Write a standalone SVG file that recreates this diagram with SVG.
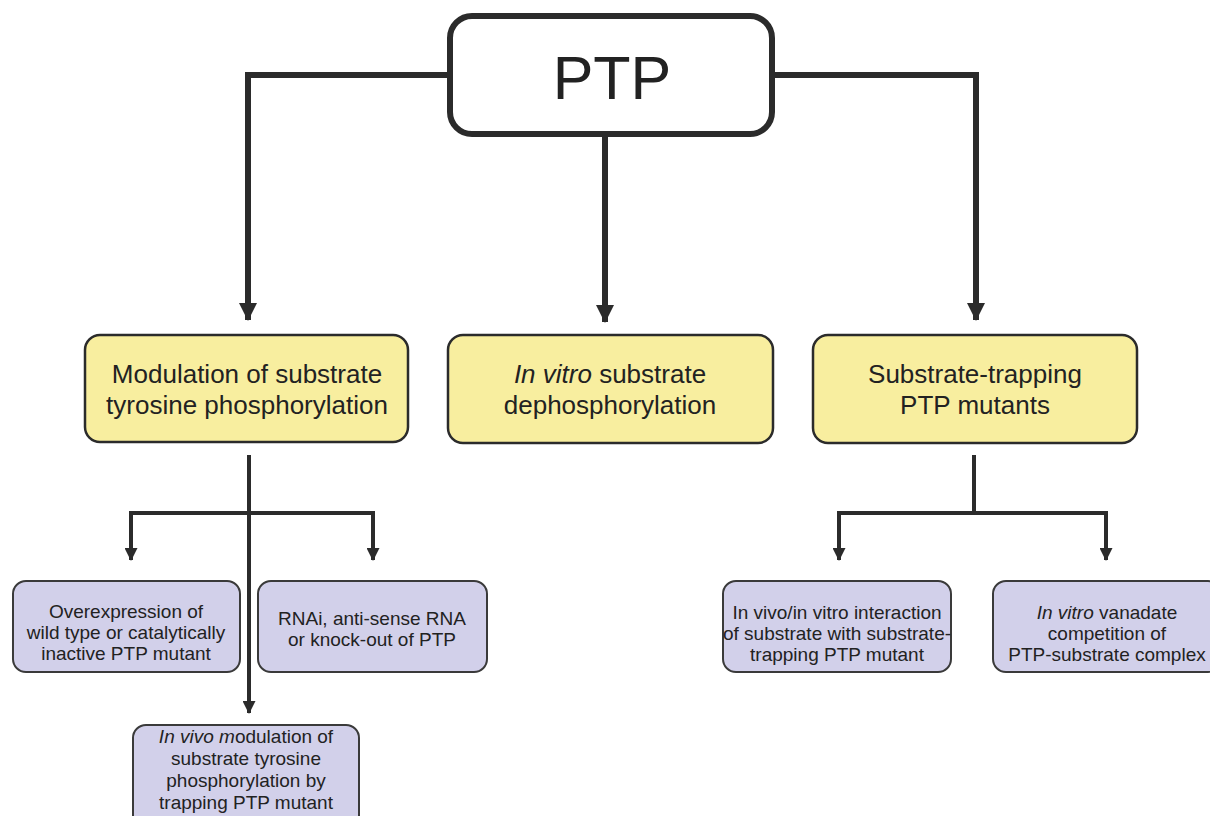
<svg xmlns="http://www.w3.org/2000/svg" width="1210" height="816" viewBox="0 0 1210 816">
<style>
.t{font-family:"Liberation Sans",Arial,sans-serif;fill:#222;text-anchor:middle}
.y{fill:#f8ee9f;stroke:#2b2b2b;stroke-width:2.5}
.p{fill:#d2d0ea;stroke:#3a3a3a;stroke-width:2}
.big{fill:none;stroke:#2b2b2b;stroke-width:6}
.sm{fill:none;stroke:#2b2b2b;stroke-width:4}
</style>
<defs>
<marker id="ab" markerUnits="userSpaceOnUse" markerWidth="18" markerHeight="18" refX="17" refY="9" orient="auto" viewBox="0 0 18 18"><path d="M0,0 L18,9 L0,18 Z" fill="#2b2b2b"/></marker>
<marker id="as" markerUnits="userSpaceOnUse" markerWidth="13" markerHeight="13" refX="12" refY="6.5" orient="auto" viewBox="0 0 13 13"><path d="M0,0 L13,6.5 L0,13 Z" fill="#2b2b2b"/></marker>
</defs>
<rect width="1210" height="816" fill="#fff"/>
<g id="connectors">
<path class="big" d="M447,75 H248 V320" marker-end="url(#ab)"/>
<path class="big" d="M775,75 H976 V320" marker-end="url(#ab)"/>
<path class="big" d="M605,137 V322" marker-end="url(#ab)"/>
<path class="sm" d="M249,455 V713" marker-end="url(#as)"/>
<path class="sm" d="M373,560 V513 H131 V560" marker-end="url(#as)"/>
<path class="sm" d="M373,513 V560" marker-end="url(#as)"/>
<path class="sm" d="M974,455 V513"/>
<path class="sm" d="M839,560 V513 H1106 V560" marker-end="url(#as)"/>
<path class="sm" d="M839,513 V560" marker-end="url(#as)"/>
</g>
<g id="ptp">
<rect x="450" y="16" width="322" height="118" rx="22" fill="#fff" stroke="#2b2b2b" stroke-width="6"/>
<text class="t" x="612" y="99" font-size="61">PTP</text>
</g>
<g id="modulation">
<rect class="y" x="85" y="335" width="323" height="107" rx="15"/>
<text class="t" x="247" y="383" font-size="26">Modulation of substrate</text>
<text class="t" x="247" y="414" font-size="26">tyrosine phosphorylation</text>
</g>
<g id="invitro">
<rect class="y" x="448" y="335" width="325" height="108" rx="15"/>
<text class="t" x="610" y="383" font-size="26"><tspan font-style="italic">In vitro</tspan> substrate</text>
<text class="t" x="610" y="414" font-size="26">dephosphorylation</text>
</g>
<g id="trapping">
<rect class="y" x="813" y="335" width="324" height="108" rx="15"/>
<text class="t" x="975" y="383" font-size="26">Substrate-trapping</text>
<text class="t" x="975" y="414" font-size="26">PTP mutants</text>
</g>
<g id="overexpression">
<rect class="p" x="13" y="581" width="227" height="91" rx="13"/>
<text class="t" x="126" y="618" font-size="19">Overexpression of</text>
<text class="t" x="126" y="639" font-size="19">wild type or catalytically</text>
<text class="t" x="126" y="660" font-size="19">inactive PTP mutant</text>
</g>
<g id="rnai">
<rect class="p" x="258" y="581" width="229" height="91" rx="13"/>
<text class="t" x="372" y="625" font-size="19">RNAi, anti-sense RNA</text>
<text class="t" x="372" y="646" font-size="19">or knock-out of PTP</text>
</g>
<g id="invivo">
<rect class="p" x="133" y="725" width="226" height="110" rx="13"/>
<text class="t" x="246" y="743" font-size="19"><tspan font-style="italic">In vivo m</tspan>odulation of</text>
<text class="t" x="246" y="765" font-size="19">substrate tyrosine</text>
<text class="t" x="246" y="787" font-size="19">phosphorylation by</text>
<text class="t" x="246" y="809" font-size="19">trapping PTP mutant</text>
</g>
<g id="interaction">
<rect class="p" x="723" y="581" width="228" height="91" rx="13"/>
<text class="t" x="837" y="619" font-size="19">In vivo/in vitro interaction</text>
<text class="t" x="837" y="640" font-size="19">of substrate with substrate-</text>
<text class="t" x="837" y="661" font-size="19">trapping PTP mutant</text>
</g>
<g id="vanadate">
<rect class="p" x="993" y="581" width="228" height="91" rx="13"/>
<text class="t" x="1107" y="619" font-size="19"><tspan font-style="italic">In vitro</tspan> vanadate</text>
<text class="t" x="1107" y="640" font-size="19">competition of</text>
<text class="t" x="1107" y="661" font-size="19">PTP-substrate complex</text>
</g>
</svg>
